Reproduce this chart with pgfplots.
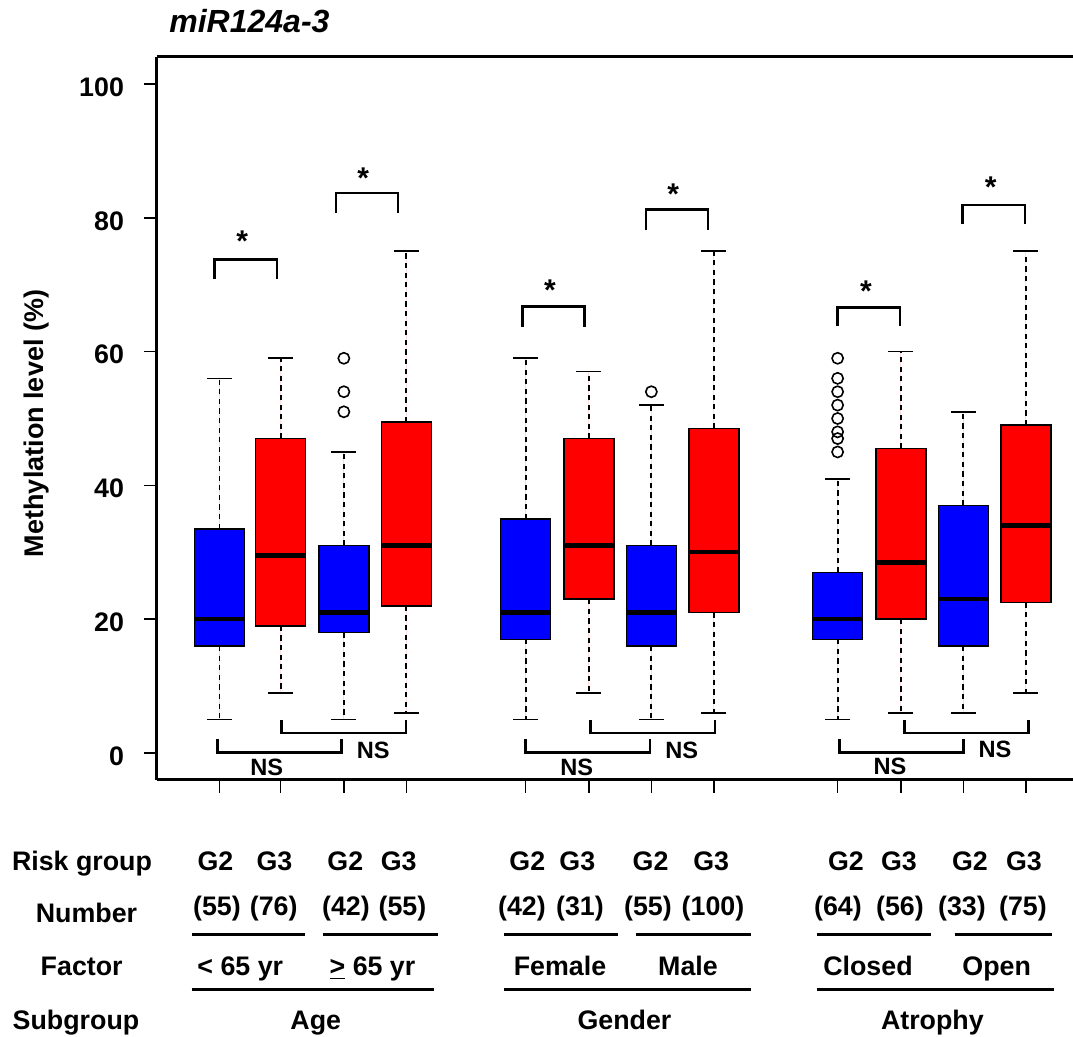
\documentclass[border=0pt]{standalone}
\usepackage{pgfplots}
\pgfplotsset{compat=1.18}
\usepgfplotslibrary{statistics}
\usepackage{fontspec}
\setmainfont{Liberation Sans}
\newcommand{\fs}[1]{\fontsize{#1}{#1}\selectfont\bfseries}
\newcommand{\br}[4]{\draw[line width=1.3pt] (axis cs:#1,#4) -- (axis cs:#1,#3) -- (axis cs:#2,#3) -- (axis cs:#2,#4);}
\pgfplotsset{
  gtwo/.style={fill=blue, draw=black, line width=0.75pt},
  gthree/.style={fill=red, draw=black, line width=0.75pt},
}
\begin{document}
\begin{tikzpicture}
\useasboundingbox (-78.5pt,-128.5pt) rectangle (458pt,390pt);
\begin{axis}[
  at={(0pt,0pt)}, anchor=south west,
  scale only axis, width=458pt, height=361.5pt,
  xmin=0, xmax=14.656, ymin=-4.036, ymax=104.036,
  axis x line*=box, axis y line*=left,
  axis line style={-, line width=1.5pt},
  xtick={1,1.98,2.99,3.99,5.9,6.91,7.91,8.91,10.89,11.9,12.9,13.9},
  xticklabels={},
  ytick={0,20,40,60,80,100},
  xtick pos=left, ytick pos=left,
  tick align=outside, major tick length=6.5pt,
  tick style={line width=0.75pt, black},
  /pgf/number format/assume math mode=true,
  yticklabel style={font=\fs{13.4}, xshift=-6.5pt, yshift=-1.5pt},
  clip=false,
  boxplot/draw direction=y,
  boxplot/box extend=0.8,
  boxplot/whisker extend=0.4,
  boxplot/every median/.style={line width=2.2pt, draw=black},
  boxplot/draw/lower whisker/.code={%
    \draw[draw=black, line width=0.9pt, dash pattern=on 2.6pt off 2.2pt]
      (boxplot box cs:\pgfplotsboxplotvalue{lower quartile},0.5) --
      (boxplot box cs:\pgfplotsboxplotvalue{lower whisker},0.5);
    \draw[draw=black, line width=0.8pt]
      (boxplot whisker cs:\pgfplotsboxplotvalue{lower whisker},0) --
      (boxplot whisker cs:\pgfplotsboxplotvalue{lower whisker},1);
  },
  boxplot/draw/upper whisker/.code={%
    \draw[draw=black, line width=0.9pt, dash pattern=on 2.6pt off 2.2pt]
      (boxplot box cs:\pgfplotsboxplotvalue{upper quartile},0.5) --
      (boxplot box cs:\pgfplotsboxplotvalue{upper whisker},0.5);
    \draw[draw=black, line width=0.8pt]
      (boxplot whisker cs:\pgfplotsboxplotvalue{upper whisker},0) --
      (boxplot whisker cs:\pgfplotsboxplotvalue{upper whisker},1);
  },
]
% Age < 65
\addplot[gtwo, boxplot prepared={draw direction=y, draw position=1, lower whisker=5, lower quartile=16, median=20, upper quartile=33.5, upper whisker=56}] coordinates {};
\addplot[gthree, boxplot prepared={draw direction=y, draw position=1.98, lower whisker=9, lower quartile=19, median=29.5, upper quartile=47, upper whisker=59}] coordinates {};
% Age >= 65
\addplot[gtwo, mark=o, mark size=2.8pt, mark options={solid, draw=black, fill=none, line width=0.8pt}, boxplot prepared={draw direction=y, draw position=2.99, lower whisker=5, lower quartile=18, median=21, upper quartile=31, upper whisker=45}] coordinates {(0,59) (0,54) (0,51)};
\addplot[gthree, boxplot prepared={draw direction=y, draw position=3.99, lower whisker=6, lower quartile=22, median=31, upper quartile=49.5, upper whisker=75}] coordinates {};
% Female
\addplot[gtwo, boxplot prepared={draw direction=y, draw position=5.9, lower whisker=5, lower quartile=17, median=21, upper quartile=35, upper whisker=59}] coordinates {};
\addplot[gthree, boxplot prepared={draw direction=y, draw position=6.91, lower whisker=9, lower quartile=23, median=31, upper quartile=47, upper whisker=57}] coordinates {};
% Male
\addplot[gtwo, mark=o, mark size=2.8pt, mark options={solid, draw=black, fill=none, line width=0.8pt}, boxplot prepared={draw direction=y, draw position=7.91, lower whisker=5, lower quartile=16, median=21, upper quartile=31, upper whisker=52}] coordinates {(0,54)};
\addplot[gthree, boxplot prepared={draw direction=y, draw position=8.91, lower whisker=6, lower quartile=21, median=30, upper quartile=48.5, upper whisker=75}] coordinates {};
% Closed
\addplot[gtwo, mark=o, mark size=2.8pt, mark options={solid, draw=black, fill=none, line width=0.8pt}, boxplot prepared={draw direction=y, draw position=10.89, lower whisker=5, lower quartile=17, median=20, upper quartile=27, upper whisker=41}] coordinates {(0,59) (0,56) (0,54) (0,52) (0,50) (0,48) (0,47) (0,45)};
\addplot[gthree, boxplot prepared={draw direction=y, draw position=11.9, lower whisker=6, lower quartile=20, median=28.5, upper quartile=45.5, upper whisker=60}] coordinates {};
% Open
\addplot[gtwo, boxplot prepared={draw direction=y, draw position=12.9, lower whisker=6, lower quartile=16, median=23, upper quartile=37, upper whisker=51}] coordinates {};
\addplot[gthree, boxplot prepared={draw direction=y, draw position=13.9, lower whisker=9, lower quartile=22.5, median=34, upper quartile=49, upper whisker=75}] coordinates {};

% significance brackets
\br{0.923}{1.92}{73.8}{70.9}
\br{2.864}{3.856}{83.7}{80.7}
\br{5.851}{6.843}{66.7}{63.7}
\br{7.824}{8.816}{81.2}{78.2}
\br{10.891}{11.888}{66.6}{63.8}
\br{12.891}{13.888}{81.9}{79.0}
\begin{scope}[every node/.style={font=\fs{15}, anchor=base, inner sep=0pt}]
\node at (axis cs:1.365,75.0) {*};
\node at (axis cs:3.30,84.35) {*};
\node at (axis cs:6.288,67.67) {*};
\node at (axis cs:8.26,81.96) {*};
\node at (axis cs:11.344,67.5) {*};
\node at (axis cs:13.339,83.1) {*};
\end{scope}
% NS brackets
\br{0.965}{2.949}{0.1}{2.1}
\br{1.995}{3.984}{3.0}{4.9}
\br{5.899}{7.888}{0.1}{2.1}
\br{6.939}{8.928}{3.0}{4.9}
\br{10.917}{12.90}{0.1}{2.1}
\br{11.957}{13.94}{3.0}{4.9}
\begin{scope}[every node/.style={font=\fs{11.8}, anchor=center, inner sep=0pt}]
\node at (axis cs:1.755,-2.1) {NS};
\node at (axis cs:3.46,0.4) {NS};
\node at (axis cs:6.715,-2.1) {NS};
\node at (axis cs:8.395,0.45) {NS};
\node at (axis cs:11.728,-1.95) {NS};
\node at (axis cs:13.408,0.6) {NS};
\end{scope}

% title and y label
\node[font=\fontsize{16}{16}\selectfont\bfseries\itshape, anchor=base west, inner sep=0pt] at (rel axis cs:0.0131,1.0332) {miR124a-3};
\node[rotate=90, font=\fs{13.5}, inner sep=0pt] at (rel axis cs:-0.131,0.4931) {Methylation level (\%)};

% table below the plot
\begin{scope}[every node/.style={font=\fs{13.4}, anchor=base, inner sep=0pt}]
\node at (axis cs:-1.2,-17.56) {Risk group};
\node at (axis cs:-1.128,-25.41) {Number};
\node at (axis cs:-1.205,-33.25) {Factor};
\node at (axis cs:-1.296,-41.4) {Subgroup};
\node at (axis cs:0.936,-17.56) {G2};
\node at (axis cs:1.88,-17.56) {G3};
\node at (axis cs:3.013,-17.56) {G2};
\node at (axis cs:3.867,-17.56) {G3};
\node at (axis cs:5.926,-17.56) {G2};
\node at (axis cs:6.725,-17.56) {G3};
\node at (axis cs:7.898,-17.56) {G2};
\node at (axis cs:8.867,-17.56) {G3};
\node at (axis cs:11.024,-17.56) {G2};
\node at (axis cs:11.872,-17.56) {G3};
\node at (axis cs:13.008,-17.56) {G2};
\node at (axis cs:13.872,-17.56) {G3};
\node at (axis cs:0.96,-24.36) {(55)};
\node at (axis cs:1.867,-24.36) {(76)};
\node at (axis cs:3.024,-24.36) {(42)};
\node at (axis cs:3.928,-24.36) {(55)};
\node at (axis cs:5.84,-24.36) {(42)};
\node at (axis cs:6.768,-24.36) {(31)};
\node at (axis cs:7.856,-24.36) {(55)};
\node at (axis cs:8.896,-24.36) {(100)};
\node at (axis cs:10.896,-24.36) {(64)};
\node at (axis cs:11.888,-24.36) {(56)};
\node at (axis cs:12.88,-24.36) {(33)};
\node at (axis cs:13.856,-24.36) {(75)};
\node at (axis cs:1.333,-33.25) {< 65 yr};
\node at (axis cs:3.448,-33.25) {\underline{>} 65 yr};
\node at (axis cs:6.448,-33.25) {Female};
\node at (axis cs:8.496,-33.25) {Male};
\node at (axis cs:11.376,-33.25) {Closed};
\node at (axis cs:13.435,-33.25) {Open};
\node at (axis cs:2.541,-41.4) {Age};
\node at (axis cs:7.48,-41.4) {Gender};
\node at (axis cs:12.406,-41.4) {Atrophy};
\end{scope}
\begin{scope}[line width=1.6pt]
\draw (axis cs:0.555,-27.1) -- (axis cs:2.368,-27.1);
\draw (axis cs:2.661,-27.1) -- (axis cs:4.491,-27.1);
\draw (axis cs:5.555,-27.1) -- (axis cs:7.381,-27.1);
\draw (axis cs:7.662,-27.1) -- (axis cs:9.507,-27.1);
\draw (axis cs:10.552,-27.1) -- (axis cs:12.386,-27.1);
\draw (axis cs:12.76,-27.1) -- (axis cs:14.325,-27.1);
\draw (axis cs:0.555,-35.32) -- (axis cs:4.437,-35.32);
\draw (axis cs:5.555,-35.32) -- (axis cs:9.507,-35.32);
\draw (axis cs:10.552,-35.32) -- (axis cs:14.355,-35.32);
\end{scope}
\end{axis}
\end{tikzpicture}
\end{document}
